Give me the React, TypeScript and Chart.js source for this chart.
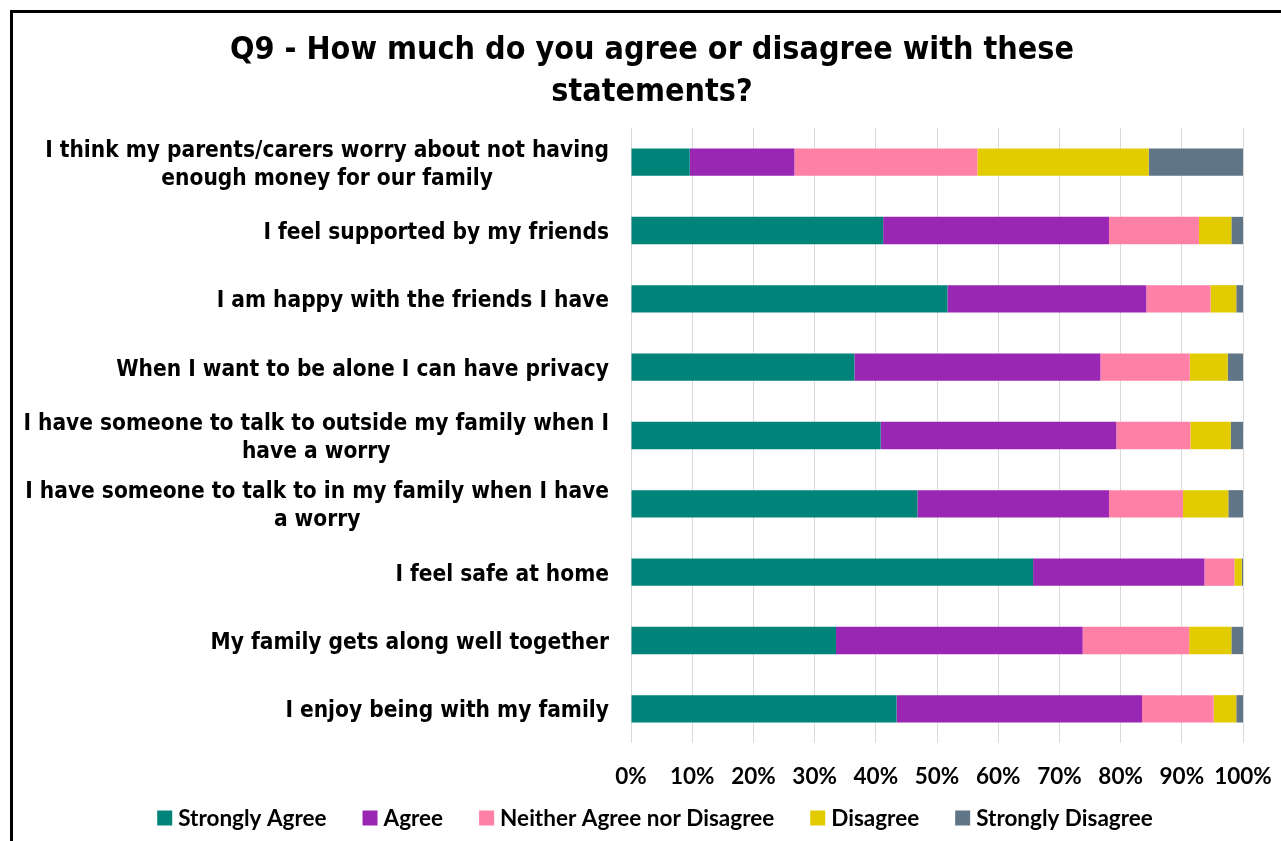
import React, { useEffect, useRef } from "react";
import { Chart, registerables } from "chart.js";

Chart.register(...registerables);

const titleLines = ["Q9 - How much do you agree or disagree with these", "statements?"];

const categories: string[][] = [
  ["I think my parents/carers worry about not having", "enough money for our family"],
  ["I feel supported by my friends"],
  ["I am happy with the friends I have"],
  ["When I want to be alone I can have privacy"],
  ["I have someone to talk to outside my family when I", "have a worry"],
  ["I have someone to talk to in my family when I have", "a worry"],
  ["I feel safe at home"],
  ["My family gets along well together"],
  ["I enjoy being with my family"],
];

const seriesNames = ["Strongly Agree", "Agree", "Neither Agree nor Disagree", "Disagree", "Strongly Disagree"];
const seriesColors = ["#00847A", "#9A27B3", "#FF80A6", "#E2CC00", "#607585"];

const stronglyAgree = [9.6, 41.2, 51.7, 36.5, 40.8, 46.8, 65.7, 33.5, 43.4];
const agree = [17.1, 36.9, 32.5, 40.2, 38.5, 31.3, 28.0, 40.3, 40.1];
const neither = [29.9, 14.7, 10.5, 14.6, 12.1, 12.1, 4.9, 17.4, 11.7];
const disagree = [28.0, 5.3, 4.2, 6.2, 6.6, 7.4, 1.2, 6.9, 3.7];
const stronglyDisagree = [15.4, 1.9, 1.1, 2.5, 2.0, 2.4, 0.2, 1.9, 1.1];

const xTicks = [0, 10, 20, 30, 40, 50, 60, 70, 80, 90, 100];

const CONDENSED = "'DejaVu Sans Condensed', 'DejaVu Sans', sans-serif";
const LABEL_FONT = "bold 22.5px " + CONDENSED;
const TITLE_FONT = "bold 32px " + CONDENSED;
const LEGEND_FONT = "bold 22.5px Lato, sans-serif";

const titlePlugin = {
  id: "customTitle",
  afterDraw(chart: any) {
    const ctx = chart.ctx;
    ctx.save();
    ctx.font = TITLE_FONT;
    ctx.fillStyle = "#000";
    ctx.textAlign = "center";
    ctx.textBaseline = "middle";
    const cx = chart.width / 2 - 3;
    titleLines.forEach((l, i) => ctx.fillText(l, cx, 41 + i * 42));
    ctx.restore();
  },
};

const yLabelPlugin = {
  id: "yLabels",
  afterDraw(chart: any) {
    const ctx = chart.ctx;
    const yScale = chart.scales.y;
    const right = chart.chartArea.left - 22;
    ctx.save();
    ctx.font = LABEL_FONT;
    ctx.fillStyle = "#000";
    ctx.textAlign = "center";
    ctx.textBaseline = "middle";
    const lh = 28;
    categories.forEach((lines, i) => {
      const cy = yScale.getPixelForValue(i) + 2.5;
      const maxW = Math.max(...lines.map((l) => ctx.measureText(l).width));
      const cx = right - maxW / 2;
      const startY = cy - ((lines.length - 1) * lh) / 2;
      lines.forEach((l, j) => ctx.fillText(l, cx, startY + j * lh));
    });
    ctx.restore();
  },
};

const legendPlugin = {
  id: "customLegend",
  afterDraw(chart: any) {
    const ctx = chart.ctx;
    ctx.save();
    ctx.font = LEGEND_FONT;
    ctx.textBaseline = "middle";
    ctx.textAlign = "left";
    const box = 15;
    const gapText = 6;
    const gapItem = 36;
    const widths = seriesNames.map((n) => box + gapText + ctx.measureText(n).width);
    const total = widths.reduce((a, b) => a + b, 0) + gapItem * (widths.length - 1);
    let x = chart.width / 2 - total / 2;
    const y = 808;
    chart.data.datasets.forEach((ds: any, i: number) => {
      ctx.fillStyle = ds.backgroundColor;
      ctx.fillRect(x, y - box / 2, box, box);
      ctx.fillStyle = "#000";
      ctx.fillText(ds.label, x + box + gapText, y + 1);
      x += widths[i] + gapItem;
    });
    ctx.restore();
  },
};

export default function App() {
  const ref = useRef<HTMLCanvasElement>(null);
  useEffect(() => {
    const values = [stronglyAgree, agree, neither, disagree, stronglyDisagree];
    const chart = new Chart(ref.current!, {
      type: "bar",
      data: {
        labels: categories.map((c) => c.join(" ")),
        datasets: seriesNames.map((name, i) => ({
          label: name,
          data: values[i],
          backgroundColor: seriesColors[i],
          borderWidth: 0,
          barPercentage: 0.4,
          categoryPercentage: 1,
        })),
      },
      options: {
        indexAxis: "y",
        responsive: false,
        animation: false,
        layout: { padding: { left: 0, right: 57, top: 118, bottom: 82 } },
        scales: {
          x: {
            stacked: true,
            min: 0,
            max: 100,
            afterBuildTicks: (scale: any) => {
              scale.ticks = xTicks.map((v) => ({ value: v }));
            },
            afterFit: (scale: any) => {
              scale.height = 45;
            },
            ticks: {
              callback: (v: any) => v + "%",
              color: "#000",
              font: { family: "Lato, sans-serif", size: 22.5, weight: "bold" },
              padding: 20,
              maxRotation: 0,
            },
            grid: { color: "#d9d9d9", lineWidth: 1, drawTicks: false },
            border: { display: false },
          },
          y: {
            stacked: true,
            ticks: { display: false },
            grid: { display: false },
            border: { display: false },
            afterFit: (scale: any) => {
              scale.width = 621;
            },
          },
        },
        plugins: {
          legend: { display: false },
          tooltip: { enabled: false },
          title: { display: false },
        },
      },
      plugins: [titlePlugin, yLabelPlugin, legendPlugin],
    });
    return () => chart.destroy();
  }, []);

  return (
    <div style={{ position: "fixed", left: 0, top: 0, width: 1281, height: 841, overflow: "hidden", background: "#fff" }}>
      <canvas ref={ref} width={1290} height={860} style={{ position: "absolute", left: 10, top: 10, width: 1290, height: 860 }} />
      <div
        style={{
          position: "absolute",
          left: 10,
          top: 10,
          width: 1300,
          height: 880,
          border: "3px solid #000",
          boxSizing: "border-box",
          pointerEvents: "none",
        }}
      />
    </div>
  );
}
